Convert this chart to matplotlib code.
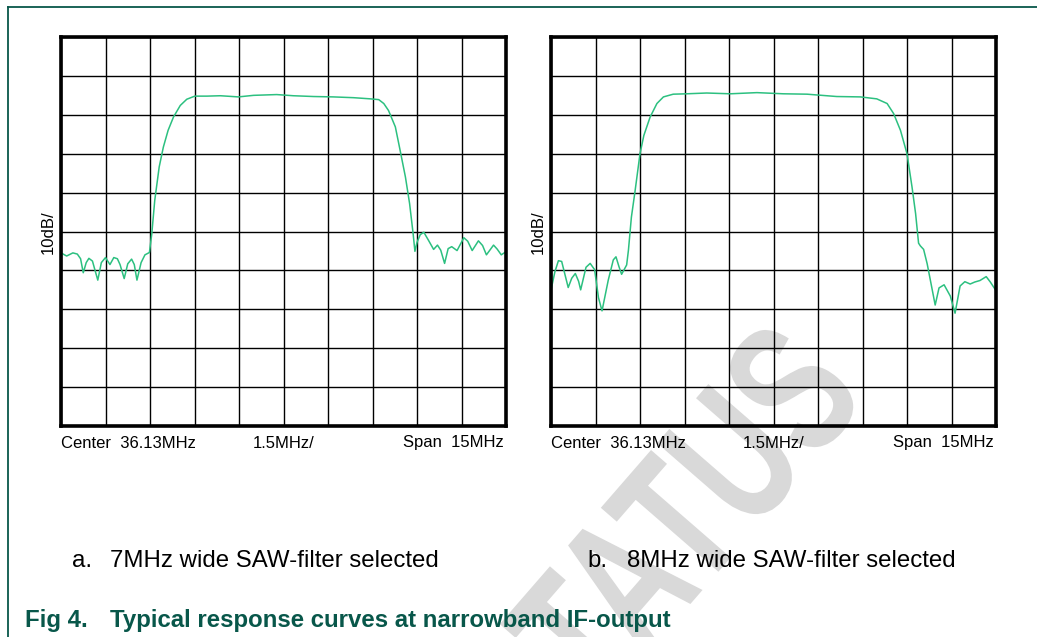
import numpy as np
import matplotlib
matplotlib.use("Agg")
from matplotlib import pyplot as plt
from matplotlib.lines import Line2D
from matplotlib.textpath import TextPath
from matplotlib.patches import PathPatch
from matplotlib.font_manager import FontProperties
from matplotlib.transforms import Affine2D, IdentityTransform

# frequency offset from centre (MHz) and level (dB, top of screen = 0 dB)
freq_a = [-7.50, -7.31, -7.10, -6.95, -6.84, -6.75, -6.65, -6.56, -6.44, -6.26,
          -6.14, -6.00, -5.85, -5.72, -5.60, -5.51, -5.37, -5.25, -5.12, -5.03,
          -4.94, -4.80, -4.67, -4.52, -4.44, -4.34, -4.19, -4.05, -3.89, -3.71,
          -3.48, -3.26, -2.99, -2.58, -2.13, -1.52, -1.01, -0.23, 0.33, 1.01,
          1.68, 2.36, 2.93, 3.21, 3.38, 3.54, 3.77, 3.93, 4.11, 4.25,
          4.37, 4.43, 4.50, 4.61, 4.73, 4.89, 5.06, 5.19, 5.30, 5.43,
          5.55, 5.67, 5.85, 6.08, 6.21, 6.36, 6.57, 6.71, 6.84, 7.08,
          7.20, 7.34, 7.50]
level_a = [-55.5, -56.3, -55.5, -55.8, -57.0, -60.6, -58.0, -56.9, -57.6, -62.5,
           -58.0, -56.7, -58.5, -56.7, -57.0, -58.5, -62.1, -58.3, -57.1, -58.5,
           -62.5, -58.0, -56.0, -55.4, -50.6, -42.0, -33.4, -28.3, -24.0, -20.6,
           -17.6, -16.0, -15.2, -15.2, -15.1, -15.4, -15.0, -14.8, -15.1, -15.3,
           -15.4, -15.6, -15.9, -16.1, -17.1, -18.9, -23.1, -29.1, -36.0, -42.8,
           -50.6, -55.1, -52.8, -50.8, -50.2, -52.3, -54.6, -53.5, -54.8, -58.2,
           -54.4, -53.9, -54.9, -51.6, -52.5, -54.9, -52.4, -53.6, -56.0, -53.5,
           -54.5, -56.0, -55.2]

freq_b = [-7.49, -7.37, -7.25, -7.14, -6.92, -6.80, -6.68, -6.57, -6.50, -6.32,
          -6.18, -6.03, -5.90, -5.78, -5.57, -5.40, -5.31, -5.21, -5.12, -4.95,
          -4.89, -4.79, -4.67, -4.50, -4.37, -4.16, -3.93, -3.71, -3.38, -2.93,
          -2.25, -1.46, -0.56, 0.33, 1.13, 2.13, 2.93, 3.48, 3.83, 4.05,
          4.28, 4.50, 4.67, 4.79, 4.89, 4.95, 5.06, 5.18, 5.31, 5.45,
          5.58, 5.75, 5.96, 6.12, 6.29, 6.45, 6.63, 6.78, 6.96, 7.17,
          7.31, 7.50]
level_b = [-64.7, -60.4, -57.5, -57.7, -64.4, -62.0, -60.8, -62.8, -65.0, -59.2,
           -58.2, -59.8, -67.0, -70.4, -62.5, -57.3, -56.5, -59.0, -61.0, -58.6,
           -54.8, -46.3, -39.8, -30.0, -25.3, -20.6, -17.1, -15.4, -14.7, -14.6,
           -14.4, -14.6, -14.3, -14.6, -14.7, -15.3, -15.4, -15.9, -17.1, -19.7,
           -24.0, -30.0, -38.6, -45.4, -53.0, -53.7, -54.6, -58.3, -63.4, -68.9,
           -64.5, -63.7, -66.6, -71.0, -64.0, -62.9, -63.5, -63.0, -62.6, -61.6,
           -63.0, -65.2]

bottom_labels = ["Center  36.13MHz", "1.5MHz/", "Span  15MHz"]
y_label = "10dB/"
captions = [("a.", "7MHz wide SAW-filter selected"),
            ("b.", "8MHz wide SAW-filter selected")]
fig_num = "Fig 4."
fig_title = "Typical response curves at narrowband IF-output"

W, H = 1037, 637
trace_col = "#2cc080"
dark_green = "#08574a"
font = "Liberation Sans"


def px(x, y):
    return x / W, 1 - y / H


fig = plt.figure(figsize=(W / 100, H / 100), dpi=100)

# watermark behind everything
tp = TextPath((0, 0), "STATUS", size=100,
              prop=FontProperties(family=font, weight="bold"))
bb = tp.get_extents()
tr = (Affine2D().translate(-(bb.x0 + bb.x1) / 2, -(bb.y0 + bb.y1) / 2)
      .scale(1.3, 1.9).rotate_deg(49).translate(655, H - 545))
wm = PathPatch(tp, transform=tr + IdentityTransform(), facecolor="#d9d9d9",
               edgecolor="none", zorder=-5)
fig.add_artist(wm)

lefts = [61, 551]
curves = [(freq_a, level_a), (freq_b, level_b)]
for i, (l, (fx, lv)) in enumerate(zip(lefts, curves)):
    ax = fig.add_axes([l / W, 1 - 426 / H, 445 / W, 389 / H])
    ax.set_facecolor("none")
    ax.set_xlim(-7.5, 7.5)
    ax.set_ylim(-100, 0)
    ax.set_xticks(np.arange(-7.5, 7.6, 1.5))
    ax.set_yticks(np.arange(-100, 1, 10))
    ax.tick_params(length=0, labelbottom=False, labelleft=False)
    ax.grid(True, color="black", lw=1.0)
    for s in ax.spines.values():
        s.set_linewidth(2.6)
    ax.plot(fx, lv, color=trace_col, lw=1.1)

    fig.text(*px(l, 443), bottom_labels[0], ha="left", va="center",
             fontsize=12, family=font)
    fig.text(*px(l + 222.5, 443), bottom_labels[1], ha="center", va="center",
             fontsize=12, family=font)
    fig.text(*px(l + 443, 443), bottom_labels[2], ha="right", va="center",
             fontsize=12, family=font)
    fig.text(*px(l - 13, 232), y_label, rotation=90, ha="center", va="center",
             fontsize=12, family=font)

# captions
for (tag, txt), x0, x1 in zip(captions, [72, 587], [110, 627]):
    fig.text(*px(x0, 561), tag, ha="left", va="center", fontsize=17.3, family=font)
    fig.text(*px(x1, 561), txt, ha="left", va="center", fontsize=17.3, family=font)

fig.text(*px(25, 620), fig_num, ha="left", va="center", fontsize=17.3,
         family=font, weight="bold", color=dark_green)
fig.text(*px(110, 620), fig_title, ha="left", va="center", fontsize=17.3,
         family=font, weight="bold", color=dark_green)

# page frame
fig.add_artist(Line2D([8 / W, 8 / W], [0, 1 - 7 / H], color=dark_green, lw=1.3))
fig.add_artist(Line2D([8 / W, 1], [1 - 7 / H, 1 - 7 / H], color=dark_green, lw=1.3))

fig.savefig("out.png", dpi=100)
